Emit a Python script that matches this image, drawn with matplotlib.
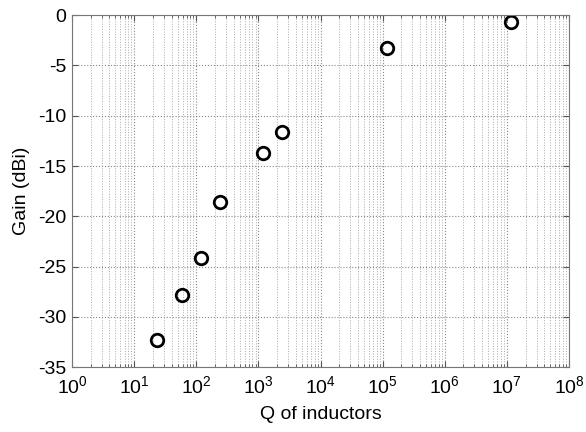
import matplotlib
matplotlib.use("Agg")
import matplotlib.pyplot as plt
from matplotlib.ticker import LogLocator, NullFormatter

# Measured gain versus inductor quality factor
q_values = [23, 59, 120, 240, 1200, 2400, 1.18e5, 1.17e7]
gain_dbi = [-32.3, -27.8, -24.1, -18.6, -13.7, -11.6, -3.3, -0.7]
x_ticks = [10.0 ** k for k in range(0, 9)]
y_ticks = list(range(-35, 1, 5))

plt.rcParams['font.family'] = ['Liberation Sans', 'DejaVu Sans']
plt.rcParams['mathtext.fontset'] = 'custom'
plt.rcParams['mathtext.rm'] = 'Liberation Sans'
plt.rcParams['axes.unicode_minus'] = False

fig = plt.figure(figsize=(5.86, 4.32), dpi=100)
ax = fig.add_axes([0.123, 0.150, 0.848, 0.815])

ax.plot(q_values, gain_dbi, linestyle='none', marker='o', markersize=9,
        markerfacecolor='none', markeredgecolor='black', markeredgewidth=2)

ax.set_xscale('log')
ax.set_xlim(1, 1e8)
ax.set_ylim(-35, 0)
ax.set_xticks(x_ticks)
ax.set_yticks(y_ticks)
ax.xaxis.set_minor_locator(LogLocator(base=10, subs=range(2, 10), numticks=100))
ax.xaxis.set_minor_formatter(NullFormatter())

# dotted grid on every decade and sub-decade
ax.grid(True, which='major', linestyle=':', color='#888888', linewidth=0.8)
ax.grid(True, which='minor', axis='x', linestyle=':', color='#aaaaaa', linewidth=0.7)

ax.tick_params(which='both', direction='in', top=True, right=True,
               labelsize=14, color='#555555')
ax.tick_params(which='major', length=4)
ax.tick_params(which='minor', length=2)
ax.tick_params(axis='x', which='major', pad=6)
ax.tick_params(axis='y', which='major', pad=4)
for s in ax.spines.values():
    s.set_color('#777777')

ax.set_xlabel('Q of inductors', fontsize=14, labelpad=6)
ax.set_ylabel('Gain (dBi)', fontsize=14, labelpad=6)

plt.savefig('out.png', dpi=100)
plt.close()
